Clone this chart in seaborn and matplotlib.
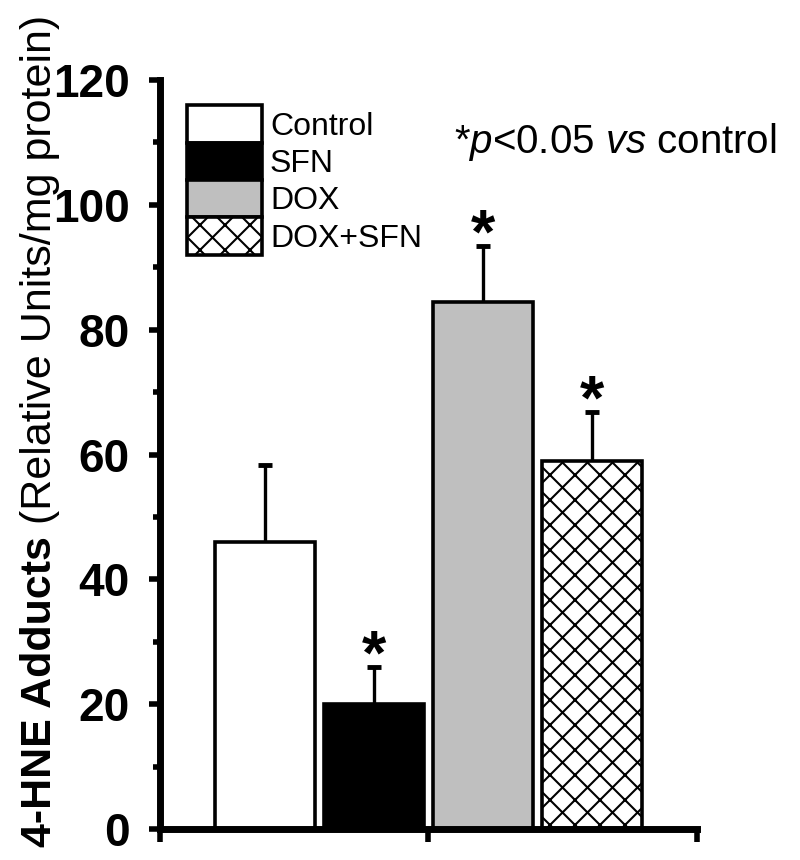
import matplotlib
matplotlib.use("Agg")
import matplotlib.pyplot as plt
import matplotlib.backend_bases as mbb
from matplotlib.patches import Patch
from matplotlib.ticker import MultipleLocator, FixedLocator, NullFormatter
import seaborn as sns
import pandas as pd

# ---- data ----
groups = ["Control", "SFN", "DOX", "DOX+SFN"]
means = [46.0, 20.1, 84.5, 59.0]
errors = [12.3, 5.8, 8.9, 7.8]
significant = [False, True, True, True]
yticks = [0, 20, 40, 60, 80, 100, 120]
ylabel_bold = "4-HNE Adducts"
ylabel_normal = "(Relative Units/mg protein)"

face_colors = ["#ffffff", "#000000", "#bfbfbf", "#ffffff"]
hatches = [None, None, None, "x"]

# slightly sparser cross-hatch than matplotlib default 'xx'
_orig_hatch = mbb.GraphicsContextBase.get_hatch_path
def _hatch_path(self, density=8.0):
    return _orig_hatch(self, density)
mbb.GraphicsContextBase.get_hatch_path = _hatch_path

sns.set_theme(style="ticks")
plt.rcParams["font.family"] = ["Liberation Sans", "DejaVu Sans"]
plt.rcParams["mathtext.fontset"] = "custom"
plt.rcParams["mathtext.rm"] = "Liberation Sans"
plt.rcParams["mathtext.it"] = "Liberation Sans:italic"
plt.rcParams["hatch.linewidth"] = 1.5
plt.rcParams["hatch.color"] = "black"
for k in ["text.color", "axes.labelcolor", "xtick.color", "ytick.color", "axes.edgecolor"]:
    plt.rcParams[k] = "black"

fig = plt.figure(figsize=(8, 8.6), dpi=100)
ax = fig.add_axes([0.2, 0.036, 0.671, 0.871])

df = pd.DataFrame({"group": groups, "value": means})
sns.barplot(data=df, x="group", y="value", hue="group", palette=face_colors,
            order=groups, hue_order=groups, edgecolor="black", linewidth=2.6,
            width=0.92, errorbar=None, legend=False, saturation=1, ax=ax)

for patch, h in zip(ax.patches, hatches):
    if h:
        patch.set_hatch(h)

xs = list(range(len(groups)))
eb = ax.errorbar(xs, means, yerr=[[0] * len(errors), errors], fmt="none",
                 ecolor="black", elinewidth=2.4, capsize=5, capthick=3.5, zorder=1)
for cl in eb[1]:
    if list(cl.get_ydata()) == list(means):
        cl.set_visible(False)

for x, m, e, s in zip(xs, means, errors, significant):
    if s:
        ax.annotate("*", xy=(x, m + e), xytext=(0, -4.5), textcoords="offset points",
                    ha="center", va="baseline", fontsize=45, fontweight="bold")

ax.set_xlim(-0.96, 3.96)
ax.set_ylim(0, 120)
ax.set_xlabel("")
ax.set_ylabel("")

for side in ["top", "right"]:
    ax.spines[side].set_visible(False)
for side in ["left", "bottom"]:
    ax.spines[side].set_linewidth(5)
    ax.spines[side].set_color("black")
    ax.spines[side].set_capstyle("projecting")

ax.yaxis.set_major_locator(FixedLocator(yticks))
ax.yaxis.set_minor_locator(MultipleLocator(10))
ax.set_yticklabels([str(t) for t in yticks], fontsize=33, fontweight="bold")
ax.tick_params(axis="y", which="major", direction="out", length=8, width=4, pad=14)
ax.tick_params(axis="y", which="minor", direction="out", length=5, width=4)
ax.xaxis.set_major_locator(FixedLocator([-0.96, 1.5, 3.96]))
ax.xaxis.set_major_formatter(NullFormatter())
ax.xaxis.set_minor_locator(FixedLocator([]))
ax.tick_params(axis="x", which="major", direction="out", length=9, width=4)

handles = [Patch(facecolor=c, edgecolor="black", linewidth=2.6, hatch=h)
           for c, h in zip(face_colors, hatches)]
ax.legend(handles, groups, loc="upper left", bbox_to_anchor=(0.05, 0.966),
          frameon=False, fontsize=23, handlelength=2.35, handleheight=1.42,
          labelspacing=0.0, handletextpad=0.25, borderpad=0, borderaxespad=0)

ax.text(0.849, 0.917, r"*$\it{p}$<0.05 $\it{vs}$ control", transform=ax.transAxes,
        ha="center", va="center", fontsize=29)

# two-part y label (bold + regular), rotated
W, H = fig.get_size_inches() * fig.dpi
t1 = fig.text(51 / W, 1 - 847 / H, ylabel_bold, rotation=90, rotation_mode="anchor",
              ha="left", va="baseline", fontsize=31, fontweight="bold")
fig.canvas.draw()
bb = t1.get_window_extent()
fig.text(51 / W, (bb.y1 + 12) / H, ylabel_normal, rotation=90, rotation_mode="anchor",
         ha="left", va="baseline", fontsize=31)

fig.savefig("out.png", dpi=100)
